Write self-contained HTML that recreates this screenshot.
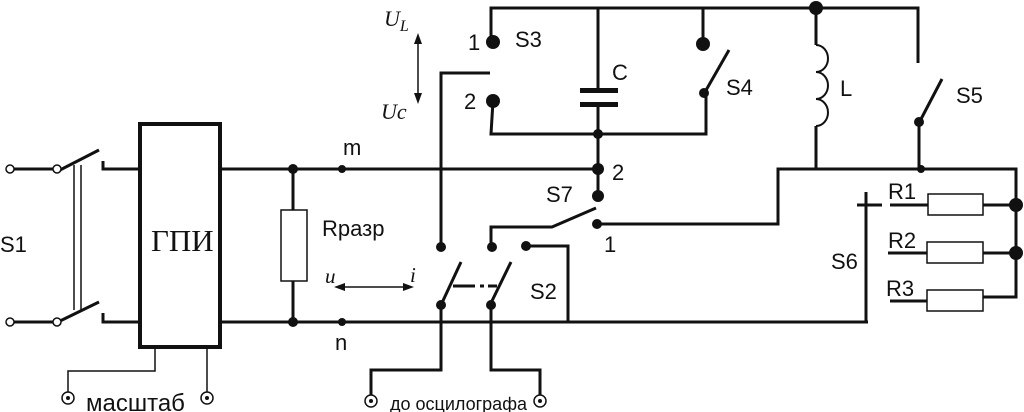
<!DOCTYPE html>
<html><head><meta charset="utf-8"><style>
html,body{margin:0;padding:0;background:#fff;width:1024px;height:412px;overflow:hidden}
svg{display:block}
text{font-family:"Liberation Sans",sans-serif;fill:#111}
.s{font-family:"Liberation Serif",serif;font-style:italic}
</style></head><body>
<svg width="1024" height="412" viewBox="0 0 1024 412" xmlns="http://www.w3.org/2000/svg">
<g stroke="#111" stroke-width="3" fill="none" stroke-linecap="butt">
<line x1="14" y1="169" x2="53" y2="169"/>
<line x1="14" y1="322" x2="53" y2="322"/>
<line x1="60" y1="170" x2="99" y2="150"/>
<line x1="60" y1="321" x2="99" y2="302"/>
<polyline points="103,161 103,169 140,169"/>
<polyline points="103,313 103,322 140,322"/>
<rect x="140" y="124" width="80" height="223" stroke-width="4"/>
<line x1="220" y1="169" x2="598" y2="169"/>
<line x1="220" y1="322" x2="868" y2="322"/>
<line x1="293" y1="169" x2="293" y2="210"/>
<line x1="293" y1="281" x2="293" y2="322"/>
<polyline points="491,42 491,8 918,8 918,63"/>
<polyline points="441,247 441,73 490,73"/>
<polyline points="493,101 491,134 706,134 706,93"/>
<line x1="598" y1="8" x2="598" y2="90"/>
<line x1="598" y1="106" x2="598" y2="196"/>
<line x1="703" y1="8" x2="703" y2="44"/>
<line x1="705" y1="92" x2="729" y2="50"/>
<line x1="816" y1="8" x2="816" y2="45"/>
<path d="M816 45 a12 13.5 0 0 1 0 27 a12 13.5 0 0 1 0 27 a12 13.5 0 0 1 0 27" stroke-width="2"/>
<line x1="816" y1="126" x2="816" y2="169"/>
<line x1="920" y1="121" x2="942" y2="79"/>
<line x1="919" y1="122" x2="919" y2="169"/>
<polyline points="491,247 491,227 552,227 596,208"/>
<polyline points="597,224 778,224 778,169 1016,169 1016,297 983,297"/>
<polyline points="525,246 568,246 568,322"/>
<line x1="441" y1="305" x2="461" y2="262"/>
<line x1="490" y1="305" x2="511" y2="262"/>
<line x1="453" y1="286" x2="475" y2="286"/>
<line x1="480" y1="286" x2="484" y2="286"/>
<line x1="488" y1="286" x2="497" y2="286"/>
<polyline points="441,305 441,370 371,370 371,396"/>
<polyline points="491,305 491,370 540,370 540,396"/>
<polyline points="866,322 866,192"/>
<line x1="857" y1="205" x2="882" y2="205"/>
<line x1="890" y1="205" x2="928" y2="205"/>
<line x1="983" y1="205" x2="1016" y2="205"/>
<line x1="888" y1="253" x2="927" y2="253"/>
<line x1="983" y1="253" x2="1016" y2="253"/>
<line x1="890" y1="301" x2="927" y2="301"/>
</g>
<g stroke="#111" fill="none" stroke-width="1.5">
<rect x="281" y="210" width="26" height="71"/>
<rect x="928" y="194" width="55" height="21"/>
<rect x="927" y="242" width="56" height="21"/>
<rect x="927" y="290" width="56" height="21"/>
<line x1="74" y1="165" x2="74" y2="310"/>
<line x1="81" y1="165" x2="81" y2="310"/>
<polyline points="155,347 155,371 68,371 68,392"/>
<line x1="207" y1="347" x2="207" y2="392"/>
<line x1="418" y1="40" x2="418" y2="98"/>
<line x1="340" y1="287" x2="408" y2="287"/>
</g>
<g fill="#111">
<rect x="580" y="88" width="38" height="5"/>
<rect x="580" y="102" width="38" height="5"/>
<polygon points="418,33 414,44 422,44"/><polygon points="418,104 414,93 422,93"/>
<polygon points="334,287 345,283 345,291"/><polygon points="414,287 403,283 403,291"/>
<circle cx="293" cy="169" r="5"/><circle cx="293" cy="322" r="5"/>
<circle cx="342" cy="169" r="4"/><circle cx="342" cy="322" r="4"/>
<circle cx="493" cy="42" r="7"/><circle cx="493" cy="101" r="7"/>
<circle cx="598" cy="134" r="5"/><circle cx="598" cy="169" r="6"/><circle cx="598" cy="196" r="6"/>
<circle cx="597" cy="224" r="5"/>
<circle cx="441" cy="247" r="5"/><circle cx="492" cy="247" r="5"/><circle cx="526" cy="246" r="5"/>
<circle cx="441" cy="305" r="5"/><circle cx="491" cy="305" r="5"/>
<circle cx="703" cy="44" r="7"/><circle cx="704" cy="93" r="5"/>
<circle cx="816" cy="8" r="7"/><circle cx="919" cy="122" r="5"/><circle cx="921" cy="169" r="4"/>
<circle cx="1016" cy="205" r="7"/><circle cx="1016" cy="253" r="7"/>
</g>
<g fill="#fff" stroke="#111" stroke-width="1.5">
<circle cx="10" cy="169" r="4"/><circle cx="10" cy="322" r="4"/>
<circle cx="57" cy="169" r="4"/><circle cx="57" cy="322" r="4"/>
<circle cx="68" cy="398" r="6"/><circle cx="207" cy="398" r="6"/>
<circle cx="371" cy="401" r="6"/><circle cx="540" cy="401" r="6"/>
</g>
<g fill="#111"><circle cx="68" cy="398" r="2"/><circle cx="207" cy="398" r="2"/><circle cx="371" cy="401" r="2"/><circle cx="540" cy="401" r="2"/></g>
<g font-size="22">
<text x="0" y="252">S1</text>
<text x="322" y="236">Rразр</text>
<text x="343" y="155">m</text>
<text x="335" y="350">n</text>
<text x="468" y="50">1</text>
<text x="515" y="47">S3</text>
<text x="464" y="109">2</text>
<text x="612" y="80">C</text>
<text x="726" y="95">S4</text>
<text x="840" y="96">L</text>
<text x="956" y="103">S5</text>
<text x="612" y="180">2</text>
<text x="546" y="202">S7</text>
<text x="604" y="252">1</text>
<text x="530" y="299">S2</text>
<text x="831" y="269">S6</text>
<text x="888" y="199">R1</text>
<text x="888" y="248">R2</text>
<text x="886" y="296">R3</text>
</g>
<text x="86" y="411" font-size="24">масштаб</text>
<text x="390" y="410" font-size="18">до осцилографа</text>
<text x="151" y="251" font-size="31" style="font-family:'Liberation Serif',serif">ГПИ</text>
<text class="s" x="384" y="26" font-size="22">U<tspan font-size="16" dy="5">L</tspan></text>
<text class="s" x="381" y="119" font-size="22">Uc</text>
<text class="s" x="325" y="283" font-size="21">u</text>
<text class="s" x="410" y="282" font-size="21">i</text>
</svg>
</body></html>
